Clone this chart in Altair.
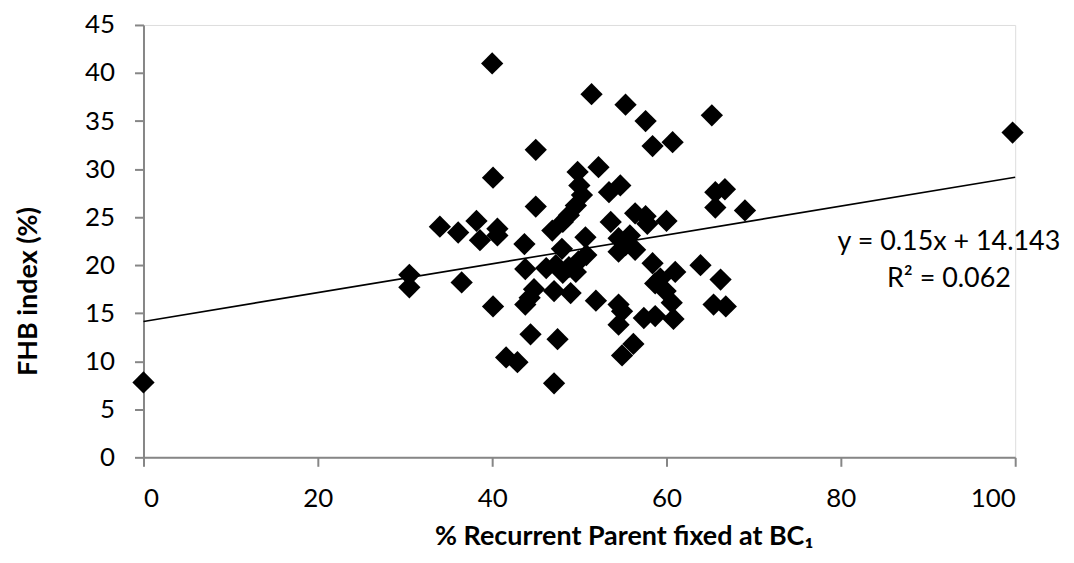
import altair as alt
import pandas as pd

# Scatter data
rp_fixed = [0, 30.5, 30.5, 34.0, 36.1, 36.5, 38.2, 38.6, 40.0, 40.1, 40.1, 40.6, 40.6, 41.6, 42.9,
            43.7, 43.8, 43.8, 44.3, 44.4, 44.8, 45.0, 45.0, 46.2, 46.9, 47.1, 47.1, 47.3, 47.5,
            48.0, 48.1, 48.1, 48.8, 48.8, 49.0, 49.6, 49.6, 49.8, 49.9, 50.0, 50.3, 50.7, 50.8,
            51.4, 51.9, 52.2, 53.4, 53.6, 54.5, 54.5, 54.5, 54.5, 54.7, 54.9, 54.9, 55.3, 55.3,
            55.8, 56.2, 56.4, 56.4, 57.4, 57.6, 57.6, 57.8, 58.4, 58.4, 58.7, 58.7, 59.3, 59.9,
            60.0, 60.6, 60.7, 60.8, 61.0, 63.9, 65.2, 65.4, 65.6, 65.6, 66.2, 66.7, 66.8, 69.0, 99.7]
fhb_index = [7.8, 19.0, 17.7, 24.0, 23.4, 18.2, 24.6, 22.6, 41.0, 29.1, 15.7, 23.8, 23.1, 10.4, 9.9,
             22.2, 19.6, 15.9, 16.6, 12.8, 17.5, 32.0, 26.1, 19.7, 23.6, 17.3, 7.7, 20.0, 12.3,
             21.7, 24.5, 19.2, 25.2, 19.8, 17.1, 26.2, 19.3, 29.7, 20.4, 28.3, 27.3, 22.9, 21.05,
             37.8, 16.3, 30.2, 27.6, 24.5, 22.8, 21.4, 15.9, 13.8, 28.3, 15.2, 10.6, 36.7, 22.1,
             23.1, 11.8, 25.4, 21.6, 14.5, 35.0, 25.1, 24.3, 32.4, 20.2, 18.1, 14.7, 18.6, 17.3,
             24.6, 16.1, 32.8, 14.4, 19.3, 20.0, 35.6, 15.9, 27.6, 26.0, 18.5, 27.9, 15.7, 25.7, 33.8]

# Trendline end points (from y = 0.15x + 14.143)
trend_x = [0, 100]
trend_y = [14.143, 29.143]

# Annotation
eq_text = ["y = 0.15x + 14.143", "R\u00b2 = 0.062"]
eq_x = [92.4, 92.4]
eq_y = [22.4, 18.6]

FONT = "Lato"
LABEL_SIZE = 26
TITLE_SIZE = 27

pts = pd.DataFrame({"x": rp_fixed, "y": fhb_index})
trend = pd.DataFrame({"x": trend_x, "y": trend_y})
ann = pd.DataFrame({"x": eq_x, "y": eq_y, "t": eq_text})

xscale = alt.Scale(domain=[0, 100], nice=False, zero=False)
yscale = alt.Scale(domain=[0, 45], nice=False, zero=False)

x_axis = alt.Axis(
    title="% Recurrent Parent fixed at BC\u2081",
    values=[0, 20, 40, 60, 80, 100],
    grid=False, domainColor="#868686", domainWidth=2,
    tickColor="#868686", tickWidth=2, tickSize=9,
    labelFont=FONT, labelFontSize=LABEL_SIZE, labelColor="#000000", labelPadding=19,
    titleFont=FONT, titleFontSize=TITLE_SIZE, titleFontWeight="bold", titleColor="#000000",
    titlePadding=13, titleX=482, titleAlign="center",
)
y_axis = alt.Axis(
    title="FHB index (%)",
    values=list(range(0, 46, 5)),
    grid=False, domainColor="#868686", domainWidth=2,
    tickColor="#868686", tickWidth=2, tickSize=9,
    labelFont=FONT, labelFontSize=LABEL_SIZE, labelColor="#000000", labelPadding=20,
    titleFont=FONT, titleFontSize=TITLE_SIZE, titleFontWeight="bold", titleColor="#000000",
    titlePadding=42, titleY=267, titleAlign="center",
)

scatter = alt.Chart(pts).mark_point(
    shape="diamond", filled=True, color="#000000", size=500, opacity=1
).encode(
    x=alt.X("x:Q", scale=xscale, axis=x_axis),
    y=alt.Y("y:Q", scale=yscale, axis=y_axis),
)

line = alt.Chart(trend).mark_line(color="#000000", strokeWidth=1.6).encode(
    x=alt.X("x:Q", scale=xscale),
    y=alt.Y("y:Q", scale=yscale),
)

text = alt.Chart(ann).mark_text(font=FONT, fontSize=27, color="#000000", align="center", baseline="middle").encode(
    x=alt.X("x:Q", scale=xscale),
    y=alt.Y("y:Q", scale=yscale),
    text="t:N",
)

chart = alt.layer(line, scatter, text).properties(
    width=875, height=434,
    padding={"left": 6, "top": 3, "right": 5, "bottom": 0},
).configure_view(stroke=None).configure(background="#ffffff")

chart.save("out.html", embed_options={"renderer": "svg", "actions": False})
